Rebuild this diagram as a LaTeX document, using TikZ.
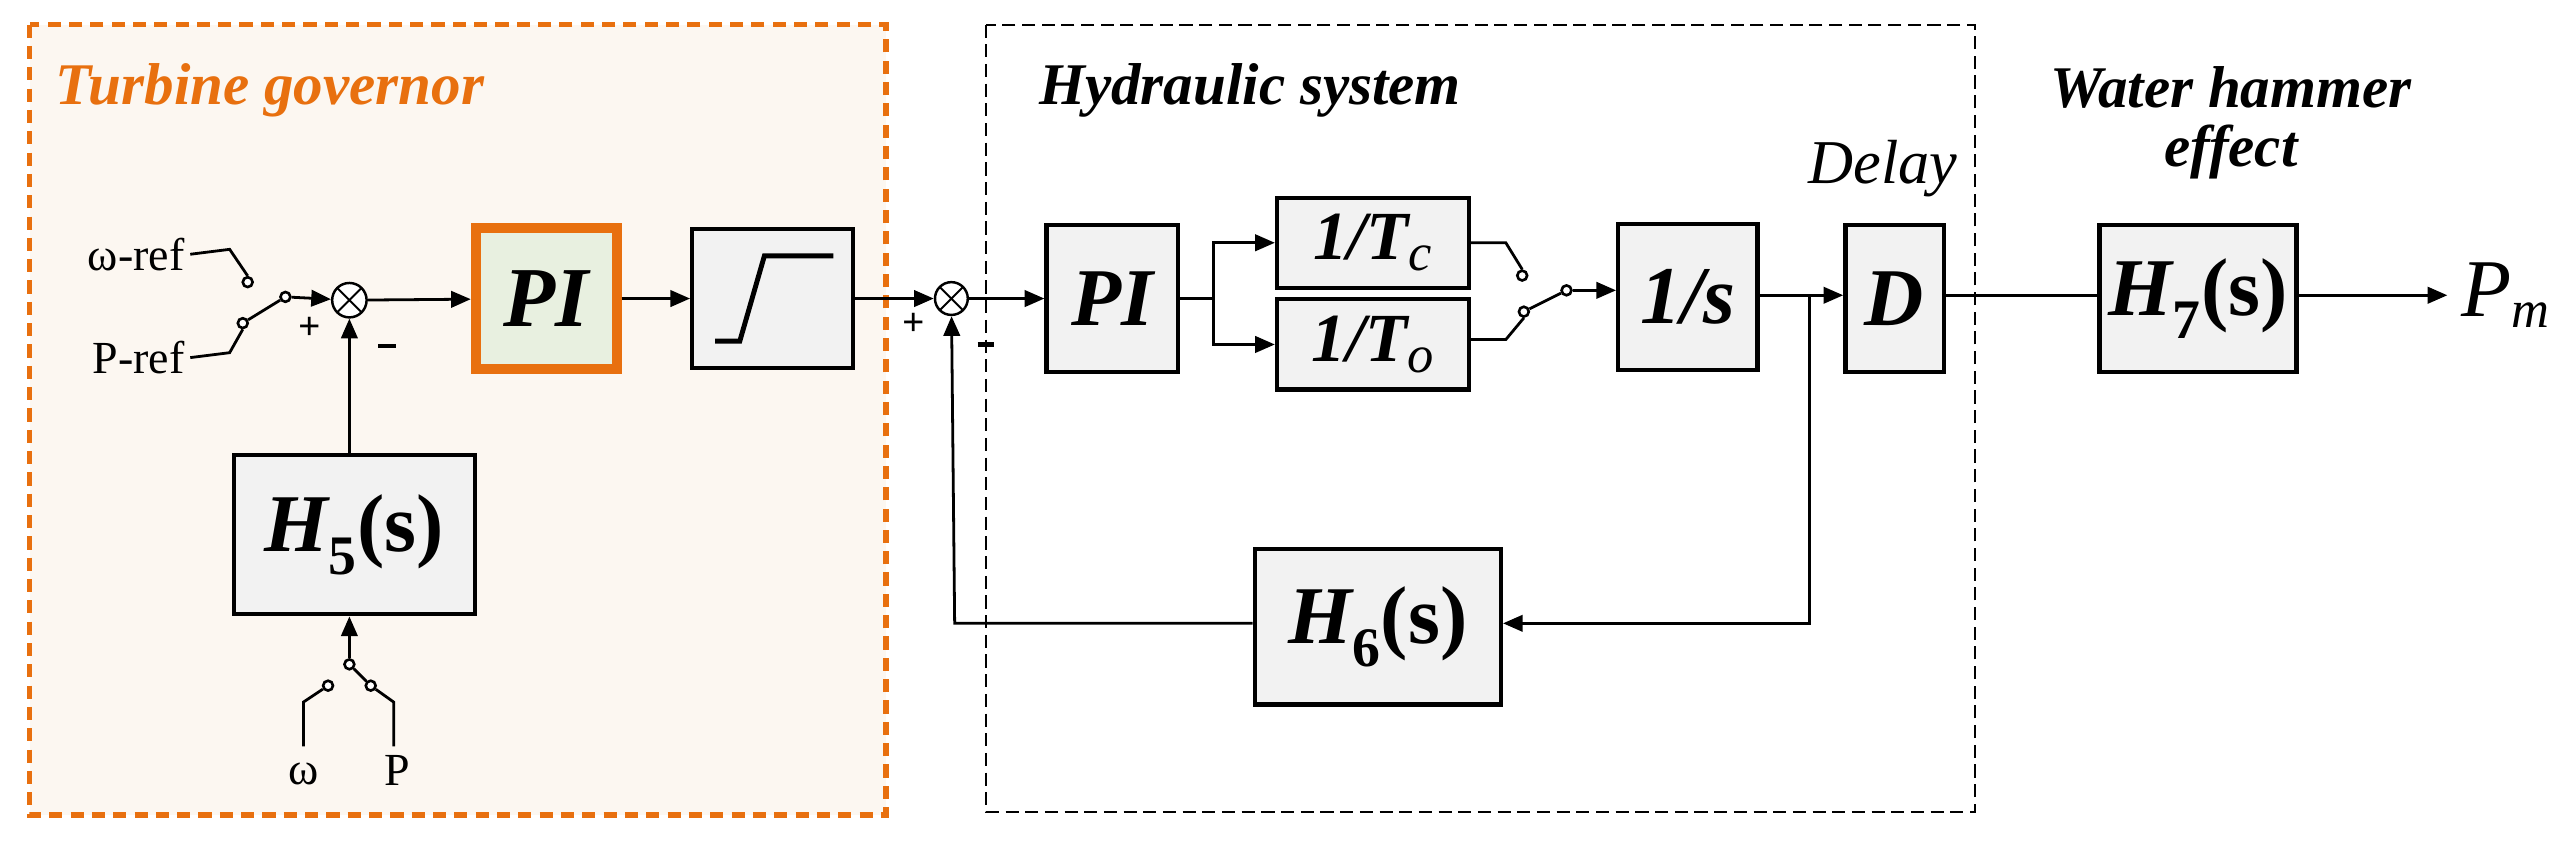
\documentclass[tikz,border=0pt]{standalone}
\usepackage{fontspec}
\setmainfont{LiberationSerif}[Extension=.ttf,UprightFont=*-Regular,BoldFont=*-Bold,ItalicFont=*-Italic,BoldItalicFont=*-BoldItalic]
\usetikzlibrary{arrows.meta}
\definecolor{org}{HTML}{E8700F}
\definecolor{cream}{HTML}{FCF7F1}
\definecolor{boxg}{HTML}{F2F2F2}
\definecolor{pig}{HTML}{E8F0E0}
\begin{document}
\begin{tikzpicture}[x=1pt,y=-1pt,
 blk/.style={draw,line width=2.6pt,fill=boxg,inner sep=0pt,font=\fontsize{50}{50}\selectfont\bfseries\itshape},
 ln/.style={line width=1.7pt},
 arr/.style={ln,-{Triangle[length=12pt,width=10pt]}},
 sum/.style={circle,draw,line width=1.5pt,minimum size=21pt,inner sep=0pt,fill=white,path picture={\draw[line width=1.2pt] (path picture bounding box.north west)--(path picture bounding box.south east) (path picture bounding box.north east)--(path picture bounding box.south west);}},
 ct/.style={circle,draw,line width=1.6pt,fill=white,minimum size=6pt,inner sep=0pt},
 lab/.style={font=\fontsize{28}{28}\selectfont},
 sg/.style={font=\fontsize{24}{24}\selectfont\bfseries},
 ttl/.style={font=\fontsize{36}{36}\selectfont\bfseries\itshape}]
\useasboundingbox (0,0) rectangle (1568,517);
% groups
\draw[org,line width=3.5pt,dash pattern=on 8pt off 5pt,fill=cream] (18,15) rectangle (540,497);
\draw[line width=1.2pt,dash pattern=on 8pt off 4pt] (601,15) rectangle (1204,495);
\node[ttl,text=org,anchor=west] (t1) at (30,55) {Turbine governor};
\node[ttl,anchor=west] (t2) at (630,55) {Hydraulic system};
\node[ttl,align=center] (t3) at (1360,75) {Water hammer\\effect};
\node[font=\fontsize{38}{38}\selectfont\itshape] (dl) at (1148,103) {Delay};
% governor
\node[sum] (s1) at (213,183) {};
\node[lab,anchor=east] (wr) at (116,155) {ω-ref};
\node[lab,anchor=east] (pr) at (116,218) {P-ref};
\coordinate (w1) at (140,152); \node[ct] (wc) at (151,172) {};
\coordinate (p1) at (140,215); \node[ct] (pc) at (148,197) {};
\node[ct] (piv1) at (174,181) {};
\draw[ln] (wr.east)--(w1)--(wc.north);
\draw[ln] (pr.east)--(p1)--(pc.south);
\draw[ln] (pc)--(piv1);
\draw[arr] (piv1)--(s1);
\node[sg] (pl1) at (189,200) {+};
\node[sg] (mi1) at (236,211) {\rule{11pt}{2.5pt}};
\node[draw=org,line width=6pt,fill=pig,minimum width=86pt,minimum height=86pt,font=\fontsize{52}{52}\selectfont\bfseries\itshape] (pi1) at (333,182) {PI};
\node[blk,minimum width=98pt,minimum height=85pt] (sat) at (471,182) {};
\draw[line width=3pt] (436,208)--(451,208)--(466,156)--(508,156);
\draw[arr] (s1)--(pi1);
\draw[arr] (pi1)--(sat);
\node[blk,minimum width=147pt,minimum height=97pt] (h5) at (216,326) {H\textsubscript{\fontsize{34}{34}\selectfont\upshape 5}\upshape(s)};
\draw[arr] (h5.north -| s1)--(s1);
\node[ct] (piv2) at (213,405) {};
\node[ct] (oc) at (200,418) {};
\node[ct] (pc2) at (226,418) {};
\coordinate (o1) at (185,428); \coordinate (o2) at (185,455);
\coordinate (q1) at (240,428); \coordinate (q2) at (240,455);
\draw[ln] (o2)--(o1)--(oc);
\draw[ln] (q2)--(q1)--(pc2)--(piv2);
\draw[arr] (piv2)--(piv2 |- h5.south);
\node[lab] (om) at (185,472) {ω};
\node[lab] (pp) at (242,470) {P};
% hydraulic
\node[sum,minimum size=20pt] (s2) at (580,182) {};
\draw[arr] (sat)--(s2);
\node[sg] (pl2) at (557,198) {+};
\node[sg] (mi2) at (601,210) {\rule{10pt}{2.5pt}};
\node[blk,minimum width=80pt,minimum height=90pt] (pi2) at (678,182) {PI};
\draw[arr] (s2)--(pi2);
\node[blk,minimum width=117pt,minimum height=55pt,font=\fontsize{42}{42}\selectfont\bfseries\itshape] (tc) at (837,148) {1/T\textsubscript{\fontsize{32}{32}\selectfont\mdseries c}};
\node[blk,minimum width=117pt,minimum height=55pt,font=\fontsize{42}{42}\selectfont\bfseries\itshape] (to) at (837,210) {1/T\textsubscript{\fontsize{32}{32}\selectfont\mdseries o}};
\coordinate (br) at (740,182);
\draw[ln] (pi2)--(br);
\draw[arr] (br)|-(tc);
\draw[arr] (br)|-(to);
\coordinate (c1) at (918,148); \node[ct] (cc) at (928,168) {};
\coordinate (d1) at (918,207); \node[ct] (dc) at (929,190) {};
\node[ct] (piv3) at (955,177) {};
\draw[ln] (tc.east |- c1)--(c1)--(cc.north);
\draw[ln] (to.east |- d1)--(d1)--(dc.south);
\draw[ln] (dc)--(piv3);
\node[blk,minimum width=85pt,minimum height=89pt] (is) at (1029,181) {1/s};
\draw[arr] (piv3)--(piv3 -| is.west);
\node[blk,minimum width=60pt,minimum height=90pt] (dd) at (1155,182) {D};
\coordinate (br2) at (1103,180);
\draw[arr] (is.east |- br2)--(br2 -| dd.west);
\node[blk,minimum width=150pt,minimum height=95pt] (h6) at (840,382) {H\textsubscript{\fontsize{34}{34}\selectfont\upshape 6}\upshape(s)};
\draw[arr] (br2)|-(h6.east |- 0,380);
\coordinate (fb) at (582,380);
\draw[arr] (h6.west |- fb)--(fb)--(s2);
% water hammer
\node[blk,minimum width=120pt,minimum height=90pt] (h7) at (1340,182) {H\textsubscript{\fontsize{34}{34}\selectfont\upshape 7}\upshape(s)};
\draw[ln] (dd.east |- 0,180)--(h7.west |- 0,180);
\coordinate (out) at (1492,180);
\draw[arr] (h7.east |- out)--(out);
\node[font=\fontsize{50}{50}\selectfont\itshape,anchor=west] (pm) at (1497,180) {P\textsubscript{\fontsize{32}{32}\selectfont m}};
\end{tikzpicture}
\end{document}
